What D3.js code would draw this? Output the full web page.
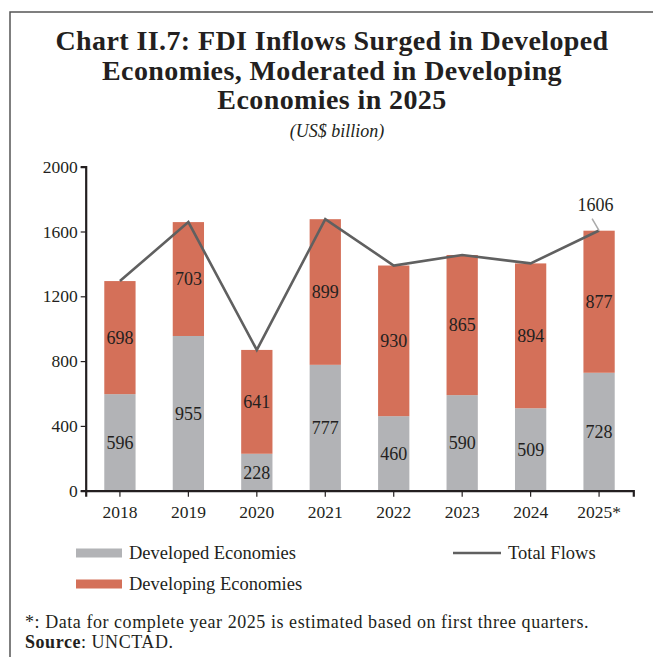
<!DOCTYPE html>
<html>
<head>
<meta charset="utf-8">
<script src="https://cdn.jsdelivr.net/npm/d3@7"></script>
<style>
  html, body { margin: 0; padding: 0; background: #fff; }
  svg { display: block; font-family: "Liberation Serif", serif; }
</style>
</head>
<body>
<svg id="chart" width="653" height="657"></svg>
<script>
// FDI inflows by economy group, US$ billion
const years = ["2018", "2019", "2020", "2021", "2022", "2023", "2024", "2025*"];
const developed = [596, 955, 228, 777, 460, 590, 509, 728];
const developing = [698, 703, 641, 899, 930, 865, 894, 877];
const totalFlows = [1294, 1658, 869, 1676, 1390, 1455, 1403, 1606];
const yTicks = [0, 400, 800, 1200, 1600, 2000];

const colors = { developed: "#b2b3b6", developing: "#d47059", total: "#606060" };

const svg = d3.select("#chart");

// frame lines (top and left)
svg.append("path")
  .attr("d", "M10,657 V12 H653")
  .attr("fill", "none")
  .attr("stroke", "#555")
  .attr("stroke-width", 1.5);

// title
const titleLines = [
  "Chart II.7: FDI Inflows Surged in Developed",
  "Economies, Moderated in Developing",
  "Economies in 2025"
];
svg.append("g").selectAll("text").data(titleLines).join("text")
  .attr("x", 332)
  .attr("y", (d, i) => 50 + i * 29.5)
  .attr("text-anchor", "middle")
  .attr("font-size", 28)
  .attr("letter-spacing", 0.4)
  .attr("font-weight", "bold")
  .attr("fill", "#231f20")
  .text(d => d);

svg.append("text")
  .attr("x", 337).attr("y", 137)
  .attr("text-anchor", "middle")
  .attr("font-size", 18)
  .attr("font-style", "italic")
  .attr("fill", "#231f20")
  .text("(US$ billion)");

// scales
const x = d3.scaleBand().domain(years).range([85.7, 633.3])
  .paddingInner(0.543).paddingOuter(0.2715);
const y = d3.scaleLinear().domain([0, 2000]).range([490.7, 166.7]);

const rows = years.map((yr, i) => ({
  year: yr, developed: developed[i], developing: developing[i], total: totalFlows[i]
}));
const stack = d3.stack().keys(["developed", "developing"])(rows);

// stacked bars
const bars = svg.append("g");
stack.forEach(layer => {
  bars.append("g")
    .attr("fill", colors[layer.key])
    .selectAll("rect").data(layer).join("rect")
    .attr("x", d => x(d.data.year))
    .attr("width", x.bandwidth())
    .attr("y", d => y(d[1]))
    .attr("height", d => y(d[0]) - y(d[1]));
});

// axes
const yAxis = svg.append("g")
  .attr("transform", `translate(${x.range()[0]},0)`)
  .call(d3.axisLeft(y).tickValues(yTicks).tickFormat(d3.format("d"))
    .tickSize(5).tickSizeOuter(5).tickPadding(3));
const xAxis = svg.append("g")
  .attr("transform", `translate(0,${y(0)})`)
  .call(d3.axisBottom(x).tickSize(6).tickSizeOuter(6).tickPadding(8));
[yAxis, xAxis].forEach(g => {
  g.selectAll(".domain").attr("stroke", "#231f20").attr("stroke-width", 2.2);
  g.selectAll(".tick line").attr("stroke", "#231f20").attr("stroke-width", 1.2);
  g.selectAll(".tick text")
    .attr("font-family", "Liberation Serif, serif")
    .attr("font-size", 17.5)
    .attr("fill", "#231f20");
});
xAxis.selectAll(".tick text").attr("dy", "0.75em");

// value labels inside the bar segments
const labels = svg.append("g")
  .attr("font-size", 18)
  .attr("fill", "#231f20")
  .attr("text-anchor", "middle");
stack.forEach(layer => {
  labels.append("g").selectAll("text").data(layer).join("text")
    .attr("x", d => x(d.data.year) + x.bandwidth() / 2)
    .attr("y", d => (y(d[0]) + y(d[1])) / 2)
    .attr("dy", "0.35em")
    .text(d => d.data[layer.key]);
});

// total flows line
const cx = yr => x(yr) + x.bandwidth() / 2;
svg.append("path")
  .datum(rows)
  .attr("fill", "none")
  .attr("stroke", colors.total)
  .attr("stroke-width", 2.6)
  .attr("stroke-linejoin", "miter")
  .attr("d", d3.line().x(d => cx(d.year)).y(d => y(d.total)));

// callout for the latest total
const last = rows[rows.length - 1];
svg.append("line")
  .attr("x1", cx(last.year) - 7).attr("y1", y(last.total) - 12)
  .attr("x2", cx(last.year)).attr("y2", y(last.total))
  .attr("stroke", "#aaa").attr("stroke-width", 1.5);
svg.append("text")
  .attr("x", cx(last.year) - 3.5).attr("y", y(last.total) - 20)
  .attr("text-anchor", "middle")
  .attr("font-size", 18)
  .attr("fill", "#231f20")
  .text(last.total);

// legend
const legend = svg.append("g").attr("font-size", 18.5).attr("fill", "#231f20");
[
  { label: "Developed Economies", color: colors.developed, x: 76, y: 553 },
  { label: "Developing Economies", color: colors.developing, x: 76, y: 584 }
].forEach(d => {
  legend.append("rect").attr("x", d.x).attr("y", d.y - 4.5)
    .attr("width", 46).attr("height", 9).attr("fill", d.color);
  legend.append("text").attr("x", d.x + 53).attr("y", d.y).attr("dy", "0.35em").text(d.label);
});
legend.append("line")
  .attr("x1", 453).attr("x2", 501).attr("y1", 553).attr("y2", 553)
  .attr("stroke", colors.total).attr("stroke-width", 2.6);
legend.append("text").attr("x", 508).attr("y", 553).attr("dy", "0.35em").text("Total Flows");

// notes
const notes = svg.append("g").attr("font-size", 18).attr("letter-spacing", 0.55).attr("fill", "#231f20");
notes.append("text").attr("x", 25).attr("y", 628)
  .text("*: Data for complete year 2025 is estimated based on first three quarters.");
const src = notes.append("text").attr("x", 25).attr("y", 648);
src.append("tspan").attr("font-weight", "bold").text("Source");
src.append("tspan").text(": UNCTAD.");
</script>
</body>
</html>
